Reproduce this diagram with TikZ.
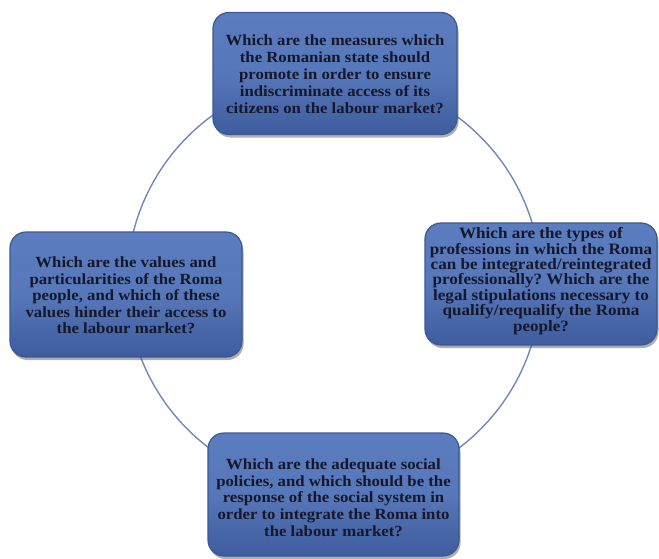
\documentclass[tikz,border=0pt]{standalone}
\usepackage{fontspec}
\setmainfont{Liberation Serif}[FakeStretch=1.08]
\usetikzlibrary{shadows}
\definecolor{ringc}{HTML}{7088BA}
\definecolor{boxtop}{HTML}{5B7CBE}
\definecolor{boxbot}{HTML}{3E5C9E}
\definecolor{boxedge}{HTML}{3A5896}
\definecolor{txtc}{HTML}{15172B}
\tikzset{
  qbox/.style={draw=boxedge, line width=1.2pt, rounded corners=16pt,
    top color=boxtop, bottom color=boxbot, middle color=boxtop!85!boxbot,
    inner sep=0pt,
    drop shadow={shadow xshift=1.5pt, shadow yshift=-3pt, opacity=0.45, fill=black!70}},
  qtext/.style={align=center, text=txtc, inner sep=0pt,
    font=\fontsize{15.5}{17}\selectfont\bfseries\frenchspacing},
  ring/.style={draw=ringc, line width=1.4pt, circle, inner sep=0pt}
}
\begin{document}
\begin{tikzpicture}[x=1pt,y=1pt]
\useasboundingbox (0,0) rectangle (659,-558);
\node[ring, minimum size=414pt] (ringnode) at (334,-283) {};
% top
\node[qbox, minimum width=244pt, minimum height=122pt] (top) at (335,-73.5) {};
\node[qtext] (toptext) at ([yshift=-1pt]top.center)
  {Which are the measures which\\the Romanian state should\\promote in order to ensure\\indiscriminate access of its\\citizens on the labour market?};
% left
\node[qbox, minimum width=232pt, minimum height=125pt] (left) at (126,-294.5) {};
\node[qtext, font=\fontsize{15.5}{16.6}\selectfont\bfseries\frenchspacing] (lefttext) at ([yshift=-1pt]left.center)
  {Which are the values and\\particularities of the Roma\\people, and which of these\\values hinder their access to\\the labour market?};
% right
\node[qbox, minimum width=232pt, minimum height=122pt] (right) at (541,-284) {};
\node[qtext, font=\fontsize{15.8}{14.2}\selectfont\bfseries\frenchspacing] (righttext) at ([yshift=3pt]right.center)
  {Which are the types of\\professions in which the Roma\\can be integrated/reintegrated\\professionally? Which are the\\legal stipulations necessary to\\qualify/requalify the Roma\\people?};
% bottom
\node[qbox, minimum width=251pt, minimum height=123pt] (bottom) at (333.5,-494.5) {};
\node[qtext, font=\fontsize{15.5}{16.7}\selectfont\bfseries\frenchspacing] (bottomtext) at ([yshift=-3pt]bottom.center)
  {Which are the adequate social\\policies, and which should be the\\response of the social system in\\order to integrate the Roma into\\the labour market?};
\end{tikzpicture}
\end{document}
